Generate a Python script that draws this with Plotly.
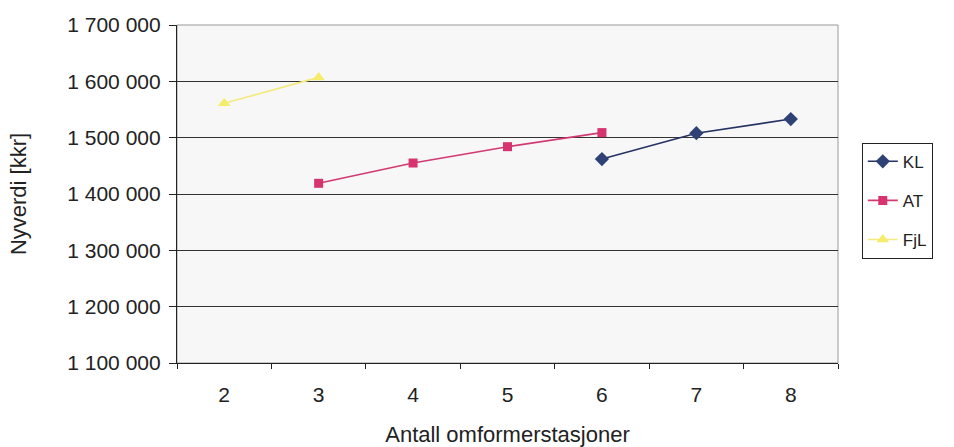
import plotly.graph_objects as go

# Data
kl_x = [6, 7, 8]
kl_y = [1462000, 1508000, 1533000]
at_x = [3, 4, 5, 6]
at_y = [1419000, 1455000, 1484000, 1509000]
fjl_x = [2, 3]
fjl_y = [1561000, 1607000]
x_ticks = [2, 3, 4, 5, 6, 7, 8]
y_ticks = [1100000, 1200000, 1300000, 1400000, 1500000, 1600000, 1700000]

FONT = "Liberation Sans, Arial, sans-serif"

fig = go.Figure()
fig.add_trace(go.Scatter(x=kl_x, y=kl_y, name="KL", mode="lines+markers", legendgroup="a",
                         line=dict(color="#243363", width=1.6),
                         marker=dict(symbol="diamond", size=11, color="#2f4275")))
fig.add_trace(go.Scatter(x=at_x, y=at_y, name="AT", mode="lines+markers", legendgroup="b",
                         line=dict(color="#d23a72", width=1.6),
                         marker=dict(symbol="square", size=9, color="#d6336f")))
fig.add_trace(go.Scatter(x=fjl_x, y=fjl_y, name="FjL", mode="lines+markers", legendgroup="c",
                         line=dict(color="#f3ea80", width=1.6),
                         marker=dict(symbol="triangle-up", size=11, color="#f6ec6a")))

fig.update_layout(
    width=954, height=447,
    margin=dict(l=177, r=116, t=25, b=84),
    paper_bgcolor="white",
    plot_bgcolor="#f7f7f7",
    separators=", ",
    font=dict(family=FONT, size=21, color="#222"),
    showlegend=True,
    legend=dict(x=1.036, y=0.48, xanchor="left", yanchor="middle",
                bordercolor="#222", borderwidth=1, bgcolor="white",
                font=dict(size=17), tracegroupgap=14, traceorder="grouped"),
    shapes=[dict(type="rect", xref="paper", yref="paper", x0=0, x1=1, y0=0, y1=1,
                 line=dict(color="#999", width=1), layer="below")],
)
fig.update_xaxes(
    range=[1.5, 8.5], tickvals=x_ticks, ticktext=[str(v) for v in x_ticks],
    ticks="", showgrid=False, zeroline=False,
    showline=True, linecolor="#222", linewidth=1.2,
    minor=dict(tick0=1.5, dtick=1, ticks="outside", ticklen=5, tickcolor="#222", showgrid=False),
    ticklabelstandoff=13,
    title=dict(text="Antall omformerstasjoner", standoff=21, font=dict(size=22)),
    tickfont=dict(size=21),
    automargin=False,
)
fig.update_yaxes(
    range=[1100000, 1700000], tickvals=y_ticks, tickformat=",d",
    ticks="outside", ticklen=7, tickcolor="#222",
    showgrid=True, gridcolor="#333", gridwidth=1, zeroline=False,
    showline=True, linecolor="#222", linewidth=1.2,
    ticklabelstandoff=4,
    title=dict(text="Nyverdi [kkr]", standoff=34, font=dict(size=22)),
    tickfont=dict(size=21),
    automargin=False,
)

fig.write_html("out.html")
